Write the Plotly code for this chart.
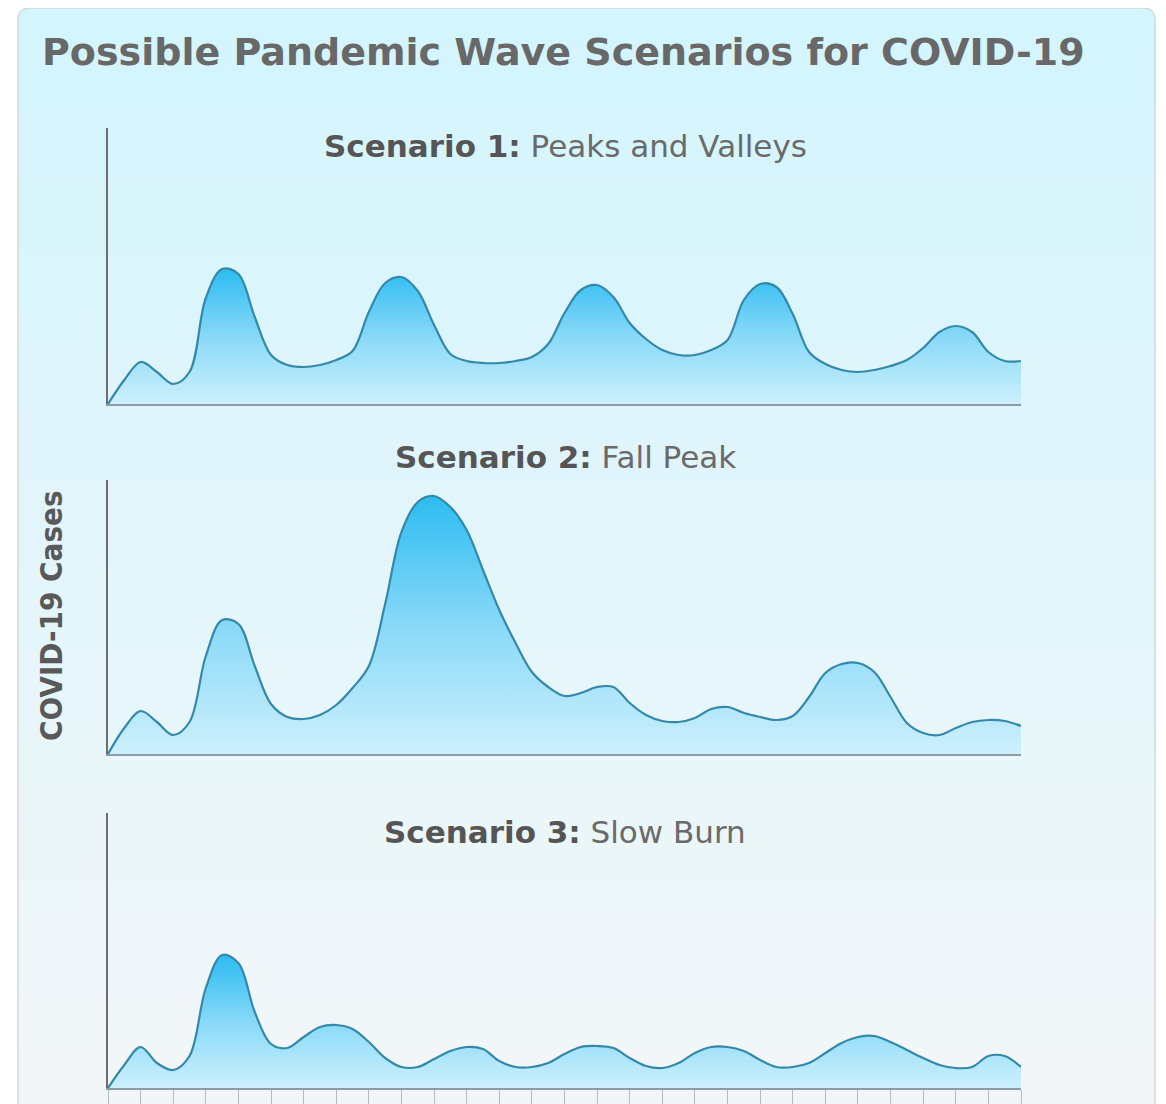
import plotly.graph_objects as go

W, H = 1166, 1104

# ---------------- data ----------------
# time axis: half-tick steps from 0 to 28 (the bottom axis has 28 tick intervals)
weeks = [i * 0.5 for i in range(57)]

# relative case levels for each scenario, read at every half tick
s1_v = [0, 24, 42, 32, 20, 32, 106, 135, 130, 87,
        49, 39, 37, 39, 44, 53, 92, 121, 127, 113,
        79, 50, 43, 41, 41, 43, 47, 60, 91, 114,
        119, 107, 81, 65, 54, 49, 49, 54, 64, 104,
        120, 117, 90, 52, 40, 34, 32, 34, 38, 44,
        56, 72, 78, 72, 52, 43, 43]

s2_v = [0, 26, 43, 32, 19, 32, 98, 134, 130, 88,
        50, 37, 35, 39, 49, 66, 88, 150, 222, 252,
        258, 247, 224, 184, 144, 111, 82, 67, 58, 61,
        67, 67, 51, 39, 33, 32, 36, 45, 47, 41,
        37, 34, 38, 57, 81, 90, 91, 82, 57, 31,
        21, 19, 26, 32, 34, 33, 28]

s3_v = [0, 23, 41, 25, 18, 32, 100, 133, 125, 76,
        44, 40, 51, 61, 63, 59, 46, 30, 21, 21,
        29, 37, 41, 39, 27, 21, 21, 25, 34, 41,
        42, 40, 30, 22, 20, 25, 35, 41, 41, 37,
        28, 21, 21, 25, 35, 45, 51, 52, 46, 38,
        30, 23, 20, 21, 32, 32, 21]

tick_positions = list(range(29))

title_text = "Possible Pandemic Wave Scenarios for COVID-19"
scenario_bold = ["Scenario 1:", "Scenario 2:", "Scenario 3:"]
scenario_names = ["Peaks and Valleys", "Fall Peak", "Slow Burn"]
y_label = "COVID-19 Cases"

# ---------------- styling helpers ----------------
OFF = 8  # page body margin


def px_x(p):
    return (p - OFF) / W


def px_y(p):
    return 1 - (p - OFF) / H


LINE = "#3489aa"
SCALE = [[0, "#cdf0fc"], [0.5, "#88d9f8"], [1, "#2cbcf1"]]
X_DOM = [px_x(108), px_x(1021)]
Y_PIX = [(128, 404), (480, 754), (813, 1088)]
TITLE_Y = [146, 457, 832]

fig = go.Figure()
series = [s1_v, s2_v, s3_v]
for i, v in enumerate(series):
    n = "" if i == 0 else str(i + 1)
    fig.add_trace(go.Scatter(
        x=weeks, y=v, xaxis="x" + n, yaxis="y" + n, mode="lines",
        line=dict(color=LINE, width=2.2, shape="spline", smoothing=1.0),
        fill="tozeroy",
        fillgradient=dict(type="vertical", start=0, stop=max(v), colorscale=SCALE),
        hoverinfo="skip", showlegend=False,
    ))

layout = dict(
    width=W, height=H,
    margin=dict(l=0, r=0, t=0, b=0),
    paper_bgcolor="white", plot_bgcolor="rgba(0,0,0,0)",
    showlegend=False,
)
for i, (top, bot) in enumerate(Y_PIX):
    n = "" if i == 0 else str(i + 1)
    last = i == 2
    layout["xaxis" + n] = dict(
        domain=X_DOM, range=[0, 28], anchor="y" + n,
        showline=True, linecolor="#8c9ca4", linewidth=2,
        showgrid=False, zeroline=False, showticklabels=False,
        tickvals=tick_positions if last else [],
        ticks="outside" if last else "", ticklen=20, tickwidth=1, tickcolor="#b4bcc0",
        fixedrange=True,
    )
    layout["yaxis" + n] = dict(
        domain=[px_y(bot), px_y(top)], range=[0, bot - top], anchor="x" + n,
        showline=True, linecolor="#6e6e6e", linewidth=2,
        showgrid=False, zeroline=False, showticklabels=False, ticks="",
        fixedrange=True,
    )
fig.update_layout(**layout)

# ---------------- background panel (vertical gradient, rounded top) ----------------
shapes = []
top_c = (211, 245, 253)
bot_c = (243, 246, 248)
x0, x1 = px_x(18), px_x(1155)
start, end = 20, H + OFF
nb = 90
for k in range(nb):
    a = start + (end - start) * k / nb
    b = start + (end - start) * (k + 1) / nb + 1
    f = k / (nb - 1)
    c = tuple(round(top_c[j] + (bot_c[j] - top_c[j]) * f) for j in range(3))
    shapes.append(dict(type="rect", xref="paper", yref="paper", x0=x0, x1=x1,
                       y0=px_y(b), y1=px_y(a), fillcolor="rgb(%d,%d,%d)" % c,
                       line=dict(width=0), layer="below"))
r = 12
top_path = (f"M {px_x(18)},{px_y(22)} L {px_x(18)},{px_y(8 + r)} "
            f"Q {px_x(18)},{px_y(8)} {px_x(18 + r)},{px_y(8)} "
            f"L {px_x(1155 - r)},{px_y(8)} Q {px_x(1155)},{px_y(8)} {px_x(1155)},{px_y(8 + r)} "
            f"L {px_x(1155)},{px_y(22)} Z")
shapes.append(dict(type="path", xref="paper", yref="paper", path=top_path,
                   fillcolor="rgb(%d,%d,%d)" % top_c, line=dict(width=0), layer="below"))
border_path = (f"M {px_x(18)},{px_y(H + 20)} L {px_x(18)},{px_y(8 + r)} "
               f"Q {px_x(18)},{px_y(8)} {px_x(18 + r)},{px_y(8)} "
               f"L {px_x(1155 - r)},{px_y(8)} Q {px_x(1155)},{px_y(8)} {px_x(1155)},{px_y(8 + r)} "
               f"L {px_x(1155)},{px_y(H + 20)}")
shapes.append(dict(type="path", xref="paper", yref="paper", path=border_path,
                   line=dict(color="#d3d8db", width=1.5), layer="below"))
fig.update_layout(shapes=shapes)

# ---------------- text ----------------
ann = [dict(text="<b>" + title_text + "</b>", x=px_x(40), y=px_y(52), xref="paper", yref="paper",
            xanchor="left", yanchor="middle", showarrow=False,
            font=dict(family="DejaVu Sans, sans-serif", size=38, color="#686868"))]
for i in range(3):
    ann.append(dict(text="<b><span style='color:#555555'>" + scenario_bold[i] + "</span></b> "
                         + scenario_names[i],
                    x=px_x(565), y=px_y(TITLE_Y[i]), xref="paper", yref="paper",
                    xanchor="center", yanchor="middle", showarrow=False,
                    font=dict(family="DejaVu Sans, sans-serif", size=31, color="#6a6a6a")))
ann.append(dict(text="<b>" + y_label + "</b>", x=px_x(51), y=px_y(616), xref="paper", yref="paper",
                xanchor="center", yanchor="middle", textangle=-90, showarrow=False,
                font=dict(family="DejaVu Sans Condensed, DejaVu Sans, sans-serif",
                          size=31, color="#595959")))
fig.update_layout(annotations=ann)

fig.write_html("out.html")
